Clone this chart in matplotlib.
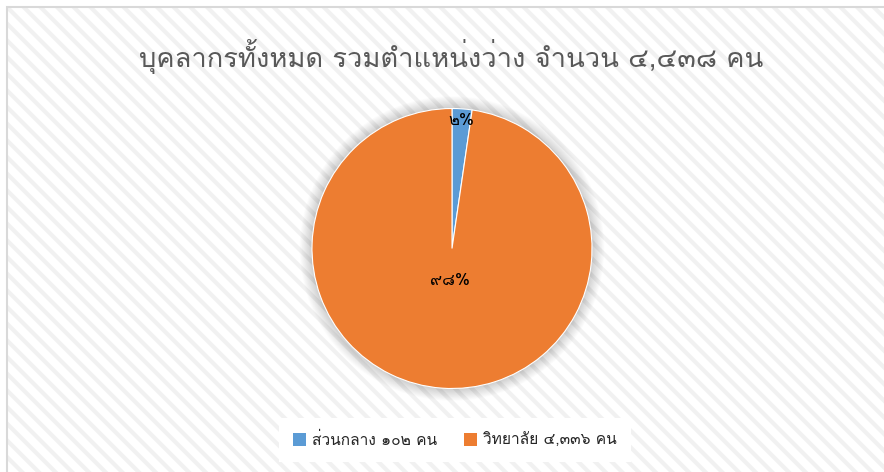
import matplotlib
matplotlib.use('Agg')
import matplotlib.pyplot as plt
from matplotlib.patches import Rectangle, Circle, Patch
import numpy as np

# ---- data ----
title = "บุคลากรทั้งหมด รวมตำแหน่งว่าง จำนวน ๔,๔๓๘ คน"
categories = ["ส่วนกลาง ๑๐๒ คน", "วิทยาลัย ๔,๓๓๖ คน"]
values = [102, 4336]
colors = ["#5B9BD5", "#ED7D31"]

FONT = ["Loma", "Noto Sans Thai Looped", "DejaVu Sans"]
plt.rcParams['font.family'] = FONT
plt.rcParams['hatch.linewidth'] = 3.0

W, H = 884, 472
fig = plt.figure(figsize=(W/100, H/100), dpi=100)
fig.patch.set_facecolor('white')

def fx(px): return px / W
def fy(py): return 1 - py / H

# hatched background inside the chart frame
bg = Rectangle((fx(7), -0.1), 1.2, fy(7) + 0.1, transform=fig.transFigure,
               facecolor='white', edgecolor='#f1f1f1', hatch='\\\\', linewidth=0, zorder=0)
fig.patches.append(bg)
frame = Rectangle((fx(7), -0.1), 1.2, fy(7) + 0.1, transform=fig.transFigure,
                  fill=False, edgecolor='#d9d9d9', linewidth=1.5, zorder=1)
fig.patches.append(frame)

fig.text(fx(451), fy(56), title, ha='center', va='center', fontsize=19.7,
         color='#595959', family=FONT)

# pie axes
cx, cy, r = 452, 248.5, 140
ax = fig.add_axes([fx(cx - r), fy(cy + r), 2 * r / W, 2 * r / H])
ax.set_zorder(2)
ax.patch.set_visible(False)

# soft shadow glow
N = 16
for k in range(N):
    rr = 1.0 + (N - k) * 0.0055
    ax.add_patch(Circle((0, 0.0), rr, facecolor='#000000', alpha=0.011,
                        edgecolor='none', clip_on=False, zorder=0))

def thai_digits(s):
    return s.translate(str.maketrans("0123456789", "๐๑๒๓๔๕๖๗๘๙"))

wedges, texts, autotexts = ax.pie(
    values, colors=colors, startangle=90, counterclock=False, radius=1,
    autopct=lambda p: thai_digits(f"{p:.0f}") + "%",
    wedgeprops=dict(edgecolor='white', linewidth=0.8),
    textprops=dict(fontsize=12, color='black', family=FONT))

dists = [0.91, 0.23]
for w, t, d in zip(wedges, autotexts, dists):
    ang = np.deg2rad((w.theta1 + w.theta2) / 2)
    t.set_position((d * np.cos(ang), d * np.sin(ang)))
    t.set_ha('center'); t.set_va('center')

ax.set_xlim(-1, 1)
ax.set_ylim(-1, 1)
ax.set_aspect('equal')
ax.axis('off')

handles = [Patch(facecolor=c, edgecolor='none') for c in colors]
leg = fig.legend(handles, categories, loc='center', ncol=2,
                 bbox_to_anchor=(fx(455), fy(440)), frameon=True, fancybox=False,
                 facecolor='white', edgecolor='none', framealpha=1,
                 prop=dict(family=FONT, size=11.2), labelcolor='#262626',
                 handlelength=0.85, handleheight=0.85, handletextpad=0.4,
                 columnspacing=1.7, borderpad=0.9, borderaxespad=0)
leg.set_zorder(3)

fig.savefig('out.png', dpi=100, facecolor='white')
